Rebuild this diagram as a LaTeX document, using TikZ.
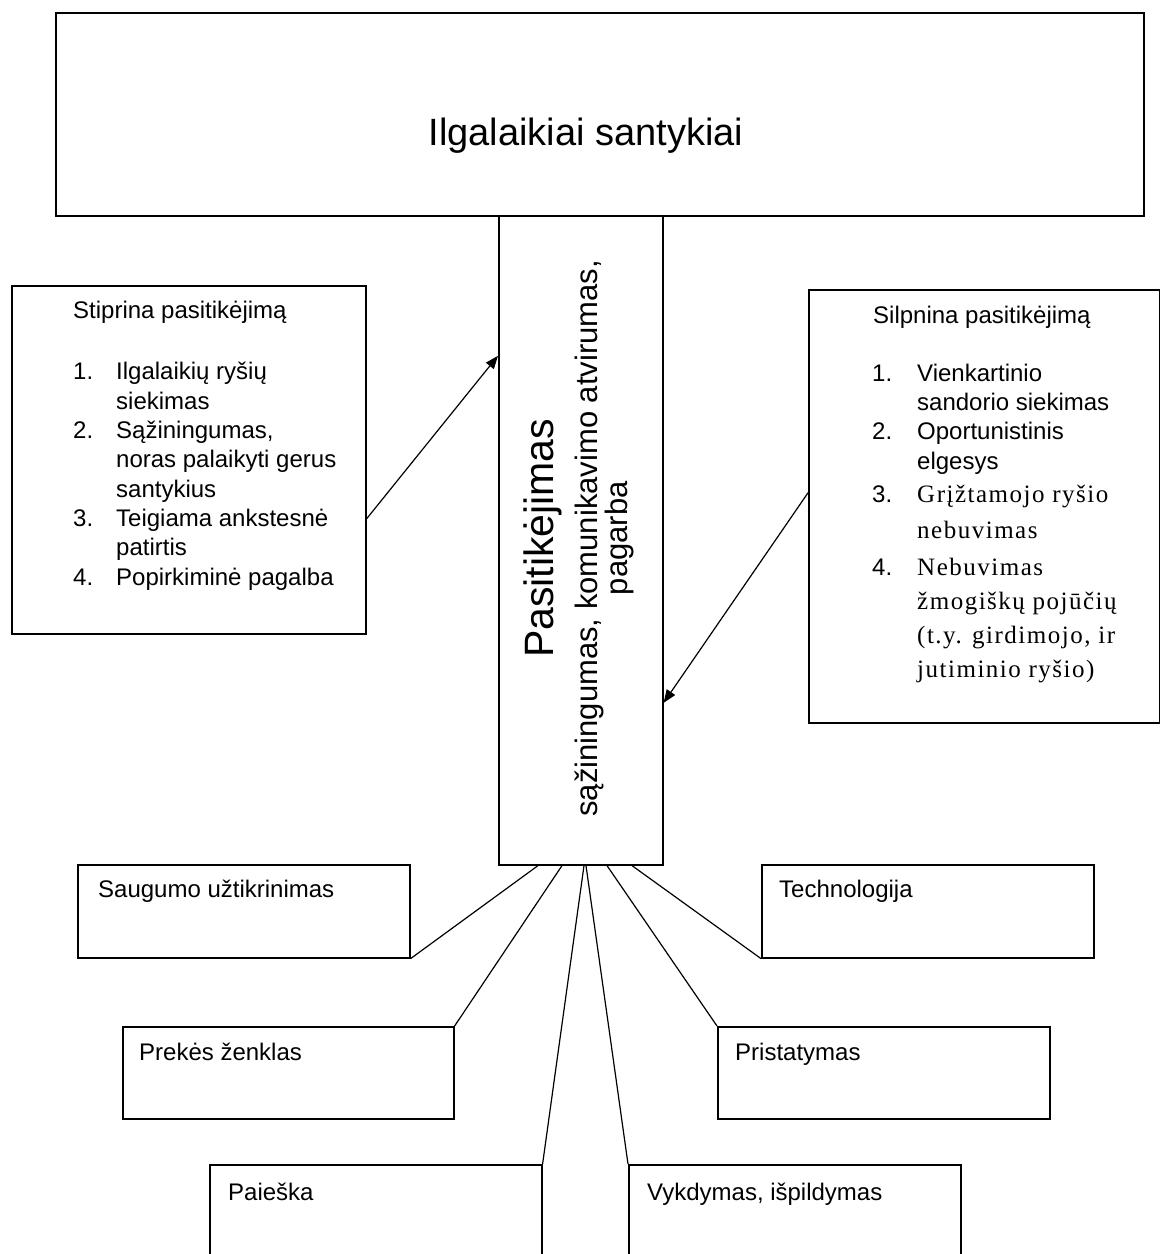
\documentclass[tikz,border=0pt]{standalone}
\usepackage{fontspec}
\setmainfont{Liberation Sans}
\newfontfamily\itemserif[LetterSpace=6]{Liberation Serif}
\usetikzlibrary{arrows.meta,calc}

\begin{document}
\begin{tikzpicture}[x=1pt,y=-1pt,
  box/.style={draw, line width=1.6pt, inner sep=0pt, anchor=north west},
  link/.style={line width=1.2pt},
  arrowlink/.style={line width=1.2pt, -{Triangle[length=13pt,width=10pt]}},
  % multi-line texts are placed by the baseline of their last line
  lbl/.style={anchor=base west, inner sep=0pt, align=left,
    font=\fontsize{24}{29.3}\selectfont},
  serifitem/.style={anchor=base west, inner sep=0pt, align=left,
    font=\itemserif\fontsize{25}{35}\selectfont},
  vtext/.style={rotate=90, anchor=base, inner sep=0pt},
]
\useasboundingbox (0,0) rectangle (1160,1254);

% frames
\node[box, minimum width=1088pt, minimum height=203pt] (top) at (55,12) {};
\node[box, minimum width=164pt, minimum height=649pt] (cen) at (498,215) {};
\node[box, minimum width=354pt, minimum height=348pt] (lb) at (11,285) {};
\node[box, minimum width=351pt, minimum height=433pt] (rb) at (808,289) {};
\node[box, minimum width=332pt, minimum height=93pt] (sau) at (77,864) {};
\node[box, minimum width=332pt, minimum height=93pt] (tech) at (761,864) {};
\node[box, minimum width=331pt, minimum height=92pt] (pre) at (122,1026) {};
\node[box, minimum width=332pt, minimum height=92pt] (pri) at (717,1026) {};
\node[box, minimum width=332pt, minimum height=120pt] (pai) at (209,1164) {};
\node[box, minimum width=332pt, minimum height=120pt] (vyk) at (628,1164) {};

% title
\node[anchor=base, inner sep=0pt, font=\fontsize{38}{46}\selectfont] (ttl)
  at ([shift={(-14,31.5)}]top.center) {Ilgalaikiai santykiai};

% central column
\node[vtext, font=\fontsize{41}{46}\selectfont] (ctitle)
  at ([shift={(-27,-2)}]cen.center) {Pasitikėjimas};
\node[vtext, font=\fontsize{31}{36}\selectfont] (csub)
  at ([shift={(17,-2)}]cen.center) {sąžiningumas, komunikavimo atvirumas,};
\node[vtext, font=\fontsize{31}{36}\selectfont] (csub2)
  at ([shift={(47,-2)}]cen.center) {pagarba};

% left list
\node[lbl] (lhead) at ([shift={(62,33)}]lb.north west) {Stiprina pasitikėjimą};
\node[lbl] (llist) at ([shift={(62,300)}]lb.north west) {%
  \makebox[43pt][l]{1.}Ilgalaikių ryšių\\
  \hspace*{43pt}siekimas\\
  \makebox[43pt][l]{2.}Sąžiningumas,\\
  \hspace*{43pt}noras palaikyti gerus\\
  \hspace*{43pt}santykius\\
  \makebox[43pt][l]{3.}Teigiama ankstesnė\\
  \hspace*{43pt}patirtis\\
  \makebox[43pt][l]{4.}Popirkiminė pagalba};

% right list
\node[lbl] (rhead) at ([shift={(65,34)}]rb.north west) {Silpnina pasitikėjimą};
\node[lbl] (rlist) at ([shift={(64,180)}]rb.north west) {%
  \makebox[45pt][l]{1.}Vienkartinio\\
  \hspace*{45pt}sandorio siekimas\\
  \makebox[45pt][l]{2.}Oportunistinis\\
  \hspace*{45pt}elgesys};
\node[lbl] (rn3) at ([shift={(64,213)}]rb.north west) {3.};
\node[serifitem, font=\itemserif\fontsize{25}{36}\selectfont] (rt3)
  at ([shift={(109,249)}]rb.north west)
  {Grįžtamojo ryšio\\nebuvimas};
\node[lbl] (rn4) at ([shift={(64,286)}]rb.north west) {4.};
\node[serifitem, font=\itemserif\fontsize{25}{34}\selectfont] (rt4)
  at ([shift={(109,388)}]rb.north west)
  {Nebuvimas\\žmogiškų pojūčių\\(t.y. girdimojo, ir\\jutiminio ryšio)};

% factor labels
\node[lbl] (tsau) at ([shift={(21,33)}]sau.north west) {Saugumo užtikrinimas};
\node[lbl] (ttech) at ([shift={(18,33)}]tech.north west) {Technologija};
\node[lbl] (tpre) at ([shift={(17,34)}]pre.north west) {Prekės ženklas};
\node[lbl] (tpri) at ([shift={(18,34)}]pri.north west) {Pristatymas};
\node[lbl] (tpai) at ([shift={(19,36)}]pai.north west) {Paieška};
\node[lbl] (tvyk) at ([shift={(19,36)}]vyk.north west) {Vykdymas, išpildymas};

% arrows into the column
\draw[arrowlink] ([yshift=-59pt]lb.east) -- ([yshift=184.5pt]cen.west);
\draw[arrowlink] ([yshift=13.5pt]rb.west) -- ([yshift=-162.5pt]cen.east);

% spokes to the factor boxes
\draw[link] ([xshift=40pt]cen.south west) -- (sau.south east);
\draw[link] ([xshift=64pt]cen.south west) -- (pre.north east);
\draw[link] ([xshift=86pt]cen.south west) -- (pai.north east);
\draw[link] ([xshift=88pt]cen.south west) -- (vyk.north west);
\draw[link] ([xshift=109pt]cen.south west) -- (pri.north west);
\draw[link] ([xshift=134pt]cen.south west) -- (tech.south west);
\end{tikzpicture}
\end{document}
